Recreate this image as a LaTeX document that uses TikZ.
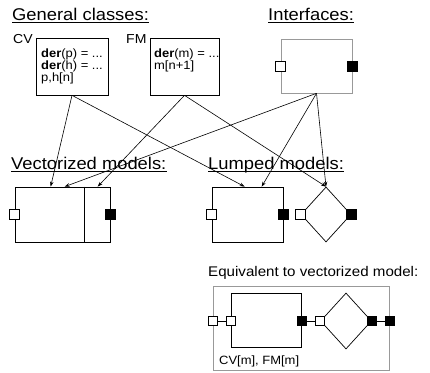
\documentclass[tikz,border=0pt]{standalone}
\usepackage{fontspec}
\setmainfont[FakeStretch=1.08]{Liberation Sans}
\usetikzlibrary{arrows.meta,calc,shapes.geometric}

\newcommand{\headfont}{\fontsize{17}{20}\selectfont}
\newcommand{\labfont}{\fontsize{13}{15}\selectfont}
\newcommand{\codefont}{\fontsize{12}{12}\selectfont}

\tikzset{
	classbox/.style={draw, line width=0.7pt, inner sep=0},
	grayframe/.style={draw=black!40, line width=0.6pt, inner sep=0},
	heading/.style={anchor=base west, inner sep=0, font=\headfont},
	portin/.style={draw, line width=0.6pt, fill=white, minimum size=10, inner sep=0},
	portout/.style={draw, line width=0.6pt, fill=black, minimum size=10, inner sep=0},
	smallin/.style={portin, minimum size=9},
	smallout/.style={portout, minimum size=9},
	flow/.style={line width=0.6pt, -{Stealth[length=5pt,width=3.5pt]}},
}

\begin{document}
\begin{tikzpicture}[x=1pt,y=1pt,yscale=-1,xscale=1]
	\useasboundingbox (0,0) rectangle (430,372);

	% headings
	\node[heading] (hgen) at (12,20) {General classes:};
	\node[heading] (hint) at (268,20) {Interfaces:};
	\node[heading] (hvec) at (11,169) {Vectorized models:};
	\node[heading] (hlump) at (208,169) {Lumped models:};
	\node[heading, font=\fontsize{14}{16}\selectfont] (hequ) at (208,276) {Equivalent to vectorized model:};
	\foreach \h in {hgen,hint,hvec,hlump}
		\draw[line width=0.8pt] ($(\h.base west)+(0,2)$) -- ($(\h.base east)+(0,2)$);

	% general classes
	\node[anchor=base west, inner sep=0, font=\labfont] (lcv) at (13,43) {CV};
	\node[anchor=base west, inner sep=0, font=\labfont] (lfm) at (126,43) {FM};
	\node[classbox, minimum width=72, minimum height=57] (cv) at (72,66.5) {};
	\node[classbox, minimum width=69, minimum height=57] (fm) at (184.5,66.5) {};
	\node[anchor=north west, align=left, inner sep=0, font=\codefont] (cvtxt) at (41,48.3)
		{\textbf{der}(p) = ...\\\textbf{der}(h) = ...\\p,h[n]};
	\node[anchor=north west, align=left, inner sep=0, font=\codefont] (fmtxt) at (154,48.3)
		{\textbf{der}(m) = ...\\m[n+1]};

	% interface
	\node[grayframe, minimum width=71, minimum height=54] (intf) at (316.5,66) {};
	\node[portin] (ia) at (intf.west) {};
	\node[portout] (ib) at (intf.east) {};

	% vectorized model
	\node[classbox, minimum width=95, minimum height=55] (vec) at (62.5,214.5) {};
	\draw[line width=0.7pt] ([xshift=70]vec.north west) -- ([xshift=70]vec.south west);
	\node[portin] (va) at (vec.west) {};
	\node[portout] (vb) at (vec.east) {};

	% lumped models
	\node[classbox, minimum width=71, minimum height=55] (lump) at (247.5,214.5) {};
	\node[portin] (la) at (lump.west) {};
	\node[portout] (lb) at (lump.east) {};
	\node[classbox, diamond, minimum width=50, minimum height=55] (dia) at (326,214.5) {};
	\node[portin] (da) at (dia.west) {};
	\node[portout] (db) at (dia.east) {};

	% arrows
	\draw[flow] (cv.south) -- ([xshift=36]vec.north west);
	\draw[flow] (intf.south) -- ([xshift=50]vec.north west);
	\draw[flow] (fm.south) -- ([xshift=83]vec.north west);
	\draw[flow] (cv.south) -- ([xshift=33]lump.north west);
	\draw[flow] (intf.south) -- ([xshift=50]lump.north west);
	\draw[flow] (fm.south) -- (dia.north);
	\draw[flow] (intf.south) -- (dia.north);

	% equivalent model
	\node[grayframe, minimum width=176, minimum height=84] (equ) at (301,328) {};
	\node[classbox, minimum width=70, minimum height=54] (inner) at (266,320) {};
	\node[classbox, diamond, minimum width=51, minimum height=56] (dia2) at (346,321) {};
	\node[smallin] (ea) at (equ.west |- dia2) {};
	\node[smallin] (eb) at (inner.west |- dia2) {};
	\node[smallout] (ec) at (inner.east |- dia2) {};
	\node[smallin] (ed) at (dia2.west) {};
	\node[smallout] (ee) at (dia2.east) {};
	\node[smallout] (ef) at (equ.east |- dia2) {};
	\draw[line width=0.6pt] (ea) -- (eb);
	\draw[line width=0.6pt] (ec) -- (ed);
	\draw[line width=0.6pt] (ee) -- (ef);
	\node[anchor=base west, inner sep=0, font=\fontsize{12}{14}\selectfont] (ecap) at (219,364) {CV[m], FM[m]};
\end{tikzpicture}
\end{document}
